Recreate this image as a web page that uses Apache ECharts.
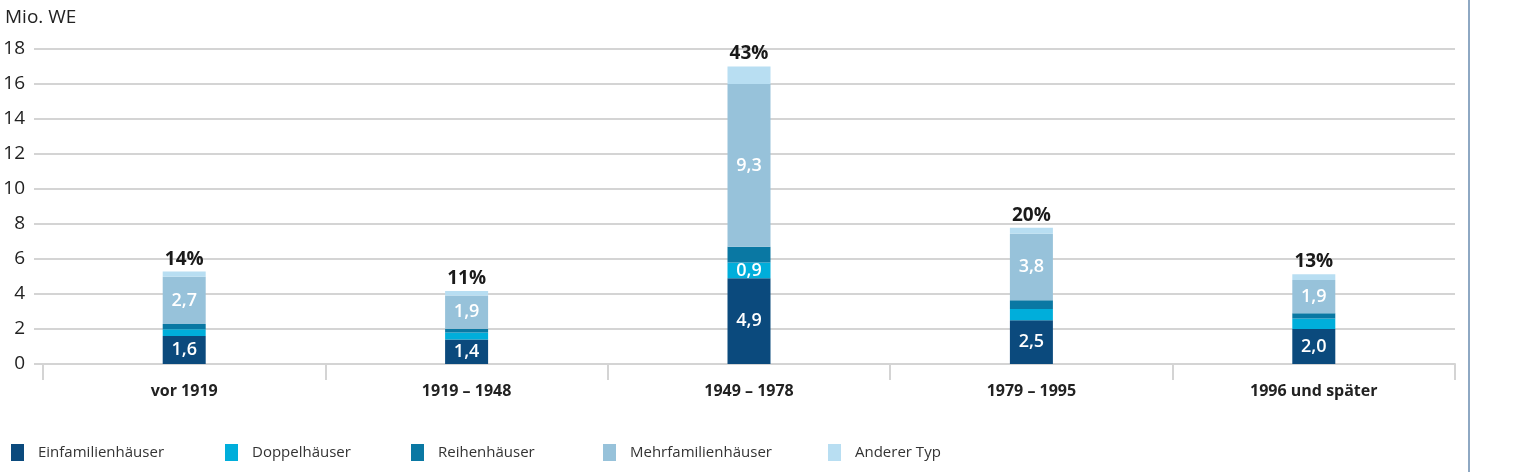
<!DOCTYPE html>
<html>
<head>
<meta charset="utf-8">
<script src="https://cdn.jsdelivr.net/npm/echarts@6/dist/echarts.min.js"></script>
<style>
html,body{margin:0;padding:0;background:#fff;}
#c{width:1526px;height:472px;}
</style>
</head>
<body>
<div id="c"></div>
<script>
const categories = ['vor 1919', '1919 – 1948', '1949 – 1978', '1979 – 1995', '1996 und später'];
const einfamilien = [1.6, 1.4, 4.9, 2.5, 2.0];
const doppel = [0.38, 0.4, 0.9, 0.65, 0.6];
const reihen = [0.3, 0.22, 0.9, 0.5, 0.3];
const mehrfamilien = [2.7, 1.9, 9.3, 3.8, 1.9];
const anderer = [0.3, 0.25, 1.0, 0.33, 0.33];
const shares = ['14%', '11%', '43%', '20%', '13%'];
const seriesNames = ['Einfamilienhäuser', 'Doppelhäuser', 'Reihenhäuser', 'Mehrfamilienhäuser', 'Anderer Typ'];
const yTicks = { min: 0, max: 18, interval: 2 };

const colors = ['#0b4a7d', '#00aedb', '#0a78a3', '#97c2da', '#b8def2'];
const FONT = '"Open Sans", "Noto Sans", sans-serif';

const fmt = v => v.toFixed(1).replace('.', ',');

function valueLabels(arr, showIdx) {
  return arr.map((v, i) => ({
    value: v,
    label: { show: showIdx === null || showIdx.includes(i) }
  }));
}

const insideLabel = {
  position: 'inside',
  color: '#ffffff',
  fontFamily: FONT,
  fontSize: 18,
  fontWeight: 600,
  formatter: p => fmt(p.value)
};

const legendLefts = [6, 220, 406, 598, 823];

const chart = echarts.init(document.getElementById('c'), null, { renderer: 'canvas' });
chart.setOption({
  animation: false,
  textStyle: { fontFamily: FONT },
  title: {
    text: 'Mio. WE', left: 0, top: 3,
    textStyle: { fontFamily: FONT, fontSize: 19, fontWeight: 'normal', color: '#222' }
  },
  grid: { left: 43, right: 71, top: 49, bottom: 108 },
  legend: seriesNames.map((n, i) => ({
    data: [n], left: legendLefts[i], top: 439,
    itemWidth: 13, itemHeight: 17, itemGap: 0,
    icon: 'rect',
    textStyle: { fontFamily: FONT, fontSize: 15, color: '#333', padding: [0, 0, 0, 9] },
    selectedMode: false
  })),
  xAxis: {
    type: 'category',
    data: categories,
    boundaryGap: true,
    axisLine: { lineStyle: { color: '#d4d4d4', width: 2 } },
    axisTick: { show: true, length: 16, lineStyle: { color: '#d4d4d4', width: 2 } },
    axisLabel: { fontFamily: FONT, fontSize: 16, fontWeight: 'bold', color: '#222', margin: 19 }
  },
  yAxis: {
    type: 'value',
    min: yTicks.min, max: yTicks.max, interval: yTicks.interval,
    axisLine: { show: false },
    axisTick: { show: true, length: 9, lineStyle: { color: '#d4d4d4', width: 2 } },
    splitLine: { lineStyle: { color: '#d4d4d4', width: 2 } },
    axisLabel: { fontFamily: FONT, fontSize: 19, color: '#222', margin: 18 }
  },
  series: [
    { name: seriesNames[0], type: 'bar', stack: 'a', barWidth: 43, itemStyle: { color: colors[0] },
      data: valueLabels(einfamilien, null), label: insideLabel },
    { name: seriesNames[1], type: 'bar', stack: 'a', itemStyle: { color: colors[1] },
      data: valueLabels(doppel, [2]), label: insideLabel },
    { name: seriesNames[2], type: 'bar', stack: 'a', itemStyle: { color: colors[2] },
      data: reihen },
    { name: seriesNames[3], type: 'bar', stack: 'a', itemStyle: { color: colors[3] },
      data: valueLabels(mehrfamilien, null), label: insideLabel },
    { name: seriesNames[4], type: 'bar', stack: 'a', itemStyle: { color: colors[4] },
      data: anderer,
      label: { show: true, position: 'top', distance: 3, fontFamily: FONT, fontSize: 19, fontWeight: 'bold', color: '#1a1a1a',
        formatter: p => shares[p.dataIndex] } }
  ],
  graphic: [
    { type: 'line', shape: { x1: 1469, y1: 0, x2: 1469, y2: 472 }, style: { stroke: '#8ea8c3', lineWidth: 2 } }
  ]
});
</script>
</body>
</html>
